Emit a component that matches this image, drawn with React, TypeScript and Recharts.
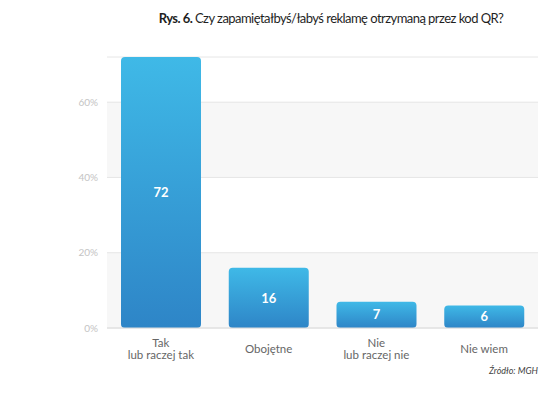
import React from 'react';
import { BarChart, Bar, XAxis, YAxis, CartesianGrid, LabelList } from 'recharts';

const categories = ['Tak\nlub raczej tak', 'Obojętne', 'Nie\nlub raczej nie', 'Nie wiem'];
const values = [72, 16, 7, 6];
const yTicks = [0, 20, 40, 60];

const data = categories.map((c, i) => ({ name: c, value: values[i] }));

const FONT = 'Lato, "Noto Sans", sans-serif';

const XTick = (props: any) => {
  const { x, y, payload } = props;
  const lines = String(payload.value).split('\n');
  const lh = 12;
  const startY = y + 13 - ((lines.length - 1) * lh) / 2;
  return (
    <text x={x} y={startY} textAnchor="middle" fill="#666" fontSize={11.5} fontFamily={FONT}>
      {lines.map((l, i) => (
        <tspan key={i} x={x} y={startY + i * lh} dy="0.35em">
          {l}
        </tspan>
      ))}
    </text>
  );
};

export default function App() {
  return (
    <div style={{ position: 'absolute', left: 0, top: 0, width: 549, height: 394, background: '#fff', fontFamily: FONT }}>
      <div
        style={{
          position: 'absolute',
          left: 0,
          width: 662,
          top: 10,
          textAlign: 'center',
          fontSize: 13,
          lineHeight: '16px',
          color: '#1f1f1f',
          whiteSpace: 'nowrap',
          letterSpacing: -0.55,
        }}
      >
        <span style={{ fontWeight: 700 }}>Rys. 6.</span> Czy zapamiętałbyś/łabyś reklamę otrzymaną przez kod QR?
      </div>
      <div style={{ position: 'absolute', left: 0, top: 0 }}>
        <BarChart width={549} height={394} data={data} margin={{ top: 57, right: 11, bottom: 0, left: 0 }}>
          <defs>
            <linearGradient id="barGrad" x1="0" y1="0" x2="0" y2="1">
              <stop offset="0%" stopColor="#3fb9e7" />
              <stop offset="100%" stopColor="#2e85c7" />
            </linearGradient>
          </defs>
          <CartesianGrid vertical={false} stroke="#e6e6e6" horizontalFill={['none', '#f7f7f7']} />
          <XAxis
            dataKey="name"
            axisLine={{ stroke: '#dcdcdc' }}
            tickLine={false}
            interval={0}
            tick={<XTick />}
            height={66}
          />
          <YAxis
            domain={[0, 72]}
            ticks={yTicks}
            width={107}
            axisLine={false}
            tickLine={false}
            tickMargin={3}
            tickFormatter={(v: number) => `${v}%`}
            tick={{ fill: '#c4c4c4', fontSize: 10, fontFamily: FONT }}
          />
          <Bar dataKey="value" fill="url(#barGrad)" barSize={80} radius={[4, 4, 4, 4]} isAnimationActive={false}>
            <LabelList dataKey="value" position="center" fill="#fff" fontSize={13} fontWeight={700} fontFamily={FONT} />
          </Bar>
        </BarChart>
      </div>
      <div
        style={{
          position: 'absolute',
          right: 11,
          top: 365,
          fontSize: 9,
          fontStyle: 'italic',
          color: '#444',
        }}
      >
        Źródło: MGH
      </div>
    </div>
  );
}
